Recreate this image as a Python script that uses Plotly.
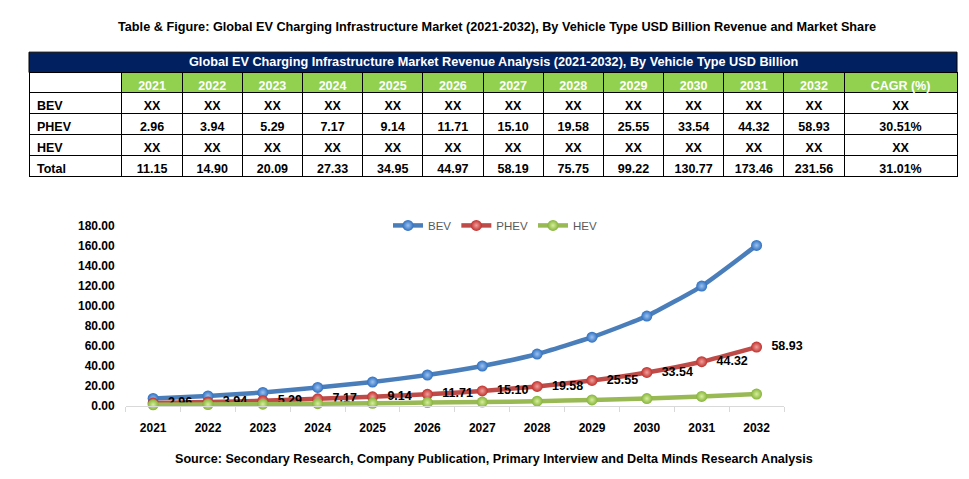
import plotly.graph_objects as go

years = ["2021", "2022", "2023", "2024", "2025", "2026", "2027", "2028", "2029", "2030", "2031", "2032"]
bev = [7.5, 10.0, 13.5, 18.6, 24.0, 31.0, 40.0, 52.0, 68.8, 90.0, 120.0, 160.7]
phev = [2.96, 3.94, 5.29, 7.17, 9.14, 11.71, 15.10, 19.58, 25.55, 33.54, 44.32, 58.93]
hev = [1.2, 1.5, 1.8, 2.3, 2.7, 3.4, 3.9, 4.8, 6.1, 7.4, 9.6, 11.9]

row_labels = ["BEV", "PHEV", "HEV", "Total"]
table_bev = ["XX"] * 12
table_phev = ["2.96", "3.94", "5.29", "7.17", "9.14", "11.71", "15.10", "19.58", "25.55", "33.54", "44.32", "58.93"]
table_hev = ["XX"] * 12
table_total = ["11.15", "14.90", "20.09", "27.33", "34.95", "44.97", "58.19", "75.75", "99.22", "130.77", "173.46", "231.56"]
cagr = ["XX", "30.51%", "XX", "31.01%"]

title_text = "Table & Figure: Global EV Charging Infrastructure Market (2021-2032), By Vehicle Type USD Billion Revenue and Market Share"
table_title = "Global EV Charging Infrastructure Market Revenue Analysis (2021-2032), By Vehicle Type USD Billion"
source_text = "Source: Secondary Research, Company Publication, Primary Interview and Delta Minds Research Analysis"

FONT = "Liberation Sans, Arial, sans-serif"
W, H = 969, 479

def px(x):
    return x / W

def py(y):
    return 1 - y / H

fig = go.Figure()

# Table
cols = [row_labels]
for i in range(12):
    cols.append([table_bev[i], table_phev[i], table_hev[i], table_total[i]])
cols.append(cagr)

fig.add_trace(go.Table(
    domain=dict(x=[px(29), px(957)], y=[py(178), py(67.5)]),
    columnwidth=[93] + [60.2] * 12 + [113],
    header=dict(
        values=[""] + years + ["CAGR (%)"],
        fill_color=["white"] + ["#92D050"] * 13,
        line=dict(color="black", width=1),
        font=dict(family=FONT, size=12.5, color="white", weight="bold"),
        align="center",
        height=20.3,
    ),
    cells=dict(
        values=cols,
        fill_color="white",
        line=dict(color="black", width=1),
        font=dict(family=FONT, size=12.5, color="black", weight="bold"),
        align=["left"] + ["center"] * 13,
        height=21,
    ),
))

# Lines
series = [
    ("BEV", bev, "#4A7EBB", "#2f6fc0", "#9cc2f0", None),
    ("PHEV", phev, "#BE4B48", "#c0302c", "#f0a09c", table_phev),
    ("HEV", hev, "#98B954", "#86b43a", "#d6ee9c", None),
]
for name, vals, lc, mc, gc, labels in series:
    fig.add_trace(go.Scatter(
        x=years, y=vals, name=name,
        mode="lines+markers+text" if labels else "lines+markers",
        text=labels,
        texttemplate="\u00a0\u00a0%{text}" if labels else None,
        textposition="middle right",
        textfont=dict(family=FONT, size=12.5, color="black", weight="bold"),
        line=dict(color=lc, width=4.5, shape="spline", smoothing=0.5),
        marker=dict(size=11, color=mc, gradient=dict(type="radial", color=gc), line=dict(width=0)),
        cliponaxis=False,
        xaxis="x", yaxis="y",
    ))

fig.update_layout(
    width=W, height=H,
    margin=dict(l=0, r=0, t=0, b=0),
    paper_bgcolor="white", plot_bgcolor="white",
    font=dict(family=FONT, color="black"),
    xaxis=dict(
        domain=[px(125.7), px(784)], type="category", range=[-0.5, 11.5],
        showline=True, linecolor="#d9d9d9", linewidth=1,
        ticks="outside", tickson="boundaries", ticklen=5, tickcolor="#d9d9d9",
        showgrid=False, zeroline=False,
        tickfont=dict(family=FONT, size=12, color="black", weight="bold"),
        ticklabelstandoff=11,
    ),
    yaxis=dict(
        domain=[py(411), py(225.7)], range=[0, 180], dtick=20, tickformat=".2f",
        showline=False, showgrid=False, zeroline=False, ticks="",
        tickfont=dict(family=FONT, size=12, color="black", weight="bold"),
        ticklabelstandoff=10,
    ),
    legend=dict(
        orientation="h", x=px(495), xanchor="center", y=py(225), yanchor="middle",
        font=dict(family=FONT, size=11.5, color="#595959"),
        bgcolor="rgba(0,0,0,0)", itemwidth=30, tracegroupgap=0,
    ),
    showlegend=True,
    shapes=[
        dict(type="rect", xref="paper", yref="paper",
             x0=px(29), x1=px(957), y0=py(67.5), y1=py(46.5),
             fillcolor="#002060", line=dict(color="black", width=1)),
    ],
    annotations=[
        dict(text=title_text, xref="paper", yref="paper", x=px(497), y=py(21),
             xanchor="center", yanchor="middle", showarrow=False,
             font=dict(family=FONT, size=12.7, color="black", weight="bold")),
        dict(text=table_title, xref="paper", yref="paper", x=px(493), y=py(57),
             xanchor="center", yanchor="middle", showarrow=False,
             font=dict(family=FONT, size=12.7, color="white", weight="bold")),
        dict(text=source_text, xref="paper", yref="paper", x=px(494), y=py(466),
             xanchor="center", yanchor="middle", showarrow=False,
             font=dict(family=FONT, size=12.6, color="black", weight="bold")),
    ],
)

fig.write_html("out.html")
